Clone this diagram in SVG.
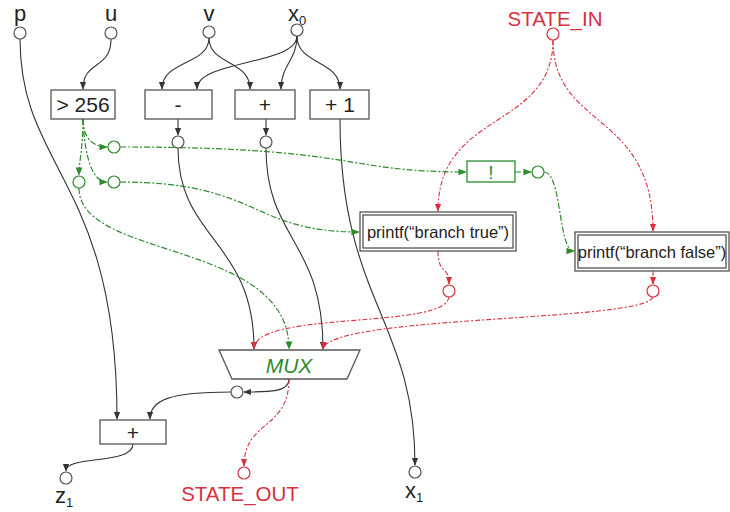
<svg xmlns="http://www.w3.org/2000/svg" width="730" height="512" viewBox="0 0 730 512">
<defs>
<marker id="ab" viewBox="0 0 10 10" refX="9" refY="5" markerWidth="7" markerHeight="7" orient="auto"><path d="M0,1 L10,5 L0,9 z" fill="#333"/></marker>
<marker id="ag" viewBox="0 0 10 10" refX="9" refY="5" markerWidth="7" markerHeight="7" orient="auto"><path d="M0,1 L10,5 L0,9 z" fill="#2e8b2e"/></marker>
<marker id="ar" viewBox="0 0 10 10" refX="9" refY="5" markerWidth="7" markerHeight="7" orient="auto"><path d="M0,1 L10,5 L0,9 z" fill="#d9303f"/></marker>
</defs>
<style>
text{font-family:"Liberation Sans",Arial,sans-serif;fill:#222}
.port{fill:#fff;stroke:#555;stroke-width:1.2}
.rport{fill:#fff;stroke:#d9303f;stroke-width:1.2}
.gport{fill:#fff;stroke:#2e8b2e;stroke-width:1.2}
.box{fill:#fff;stroke:#555;stroke-width:1.3}
.gbox{fill:#fff;stroke:#2e8b2e;stroke-width:1.3}
.lbl{font-size:22px;text-anchor:middle}
.bt{font-size:21px;text-anchor:middle}
.pt{font-size:16.5px;text-anchor:middle}
.red{fill:#d9303f}
.b{fill:none;stroke:#333;stroke-width:1.1;marker-end:url(#ab)}
.g{fill:none;stroke:#2e8b2e;stroke-width:1.2;stroke-dasharray:6,2,2,2;marker-end:url(#ag)}
.r{fill:none;stroke:#d9303f;stroke-width:1.1;stroke-dasharray:5,2,2,2;marker-end:url(#ar)}
</style>
<rect width="730" height="512" fill="#fff"/>
<g id="connectors">
<path class="b" d="M20,39 C20,170 117,180 117,419"/>
<path class="b" d="M111,39 C111,70 83,60 83,89"/>
<path class="b" d="M209,38 C209,65 162,60 162,89"/>
<path class="b" d="M209,38 C209,65 250,60 250,89"/>
<path class="b" d="M297,36 C297,65 197,60 197,89"/>
<path class="b" d="M297,36 C297,60 281,65 281,89"/>
<path class="b" d="M297,36 C297,65 340,60 340,89"/>
<path class="b" d="M178,119 L178,135"/>
<path class="b" d="M266,119 L266,135"/>
<path class="b" d="M178,148 C178,240 254,240 254,349"/>
<path class="b" d="M266,148 C266,240 323,240 323,349"/>
<path class="b" d="M340,119 C340,300 415,320 415,465"/>
<path class="b" d="M289,379 C289,392 270,392 244,392"/>
<path class="b" d="M231,392 C170,392 150,400 150,419"/>
<path class="b" d="M133,444 C133,465 66,455 66,471"/>
<path class="g" d="M83,119 C83,140 95,147 107,147"/>
<path class="g" d="M83,119 C83,150 79,160 79,175"/>
<path class="g" d="M83,119 C85,165 95,182 107,182"/>
<path class="g" d="M120,147 C360,147 340,172 466,172"/>
<path class="g" d="M120,182 C260,182 250,232 359,232"/>
<path class="g" d="M79,188 C79,260 289,240 289,349"/>
<path class="g" d="M515,172 L531,172"/>
<path class="g" d="M544,172 C562,172 558,251 574,251"/>
<path class="r" d="M553,40 C553,130 438,110 438,211"/>
<path class="r" d="M553,40 C553,130 653,110 653,231"/>
<path class="r" d="M438,251 C438,275 449,265 449,284"/>
<path class="r" d="M653,271 L653,284"/>
<path class="r" d="M449,297 C445,330 254,310 254,349"/>
<path class="r" d="M653,297 C645,322 330,315 323,349"/>
<path class="r" d="M289,379 C289,430 244,420 244,466"/>
</g>
<g id="p"><text class="lbl" x="20" y="21">p</text><circle class="port" cx="20" cy="33" r="6"/></g>
<g id="u"><text class="lbl" x="111" y="21">u</text><circle class="port" cx="111" cy="33" r="6"/></g>
<g id="v"><text class="lbl" x="209" y="21">v</text><circle class="port" cx="209" cy="32" r="6"/></g>
<g id="x0"><text class="lbl" x="297" y="21">x<tspan font-size="13" dy="4">0</tspan></text><circle class="port" cx="297" cy="30" r="6"/></g>
<g id="state_in"><text class="lbl red" x="555" y="26" style="font-size:20.5px">STATE_IN</text><circle class="rport" cx="553" cy="34" r="6"/></g>
<g id="gt256"><rect class="box" x="51" y="90" width="64" height="29"/><text class="bt" x="83" y="112">&gt; 256</text></g>
<g id="minus"><rect class="box" x="145" y="90" width="67" height="29"/><text class="bt" x="178" y="112">-</text></g>
<g id="plus"><rect class="box" x="235" y="90" width="60" height="29"/><text class="bt" x="265" y="112">+</text></g>
<g id="plus1"><rect class="box" x="310" y="90" width="59" height="29"/><text class="bt" x="340" y="112">+ 1</text></g>
<g id="c_minus"><circle class="port" cx="178" cy="142" r="6"/></g>
<g id="c_plus"><circle class="port" cx="266" cy="142" r="6"/></g>
<g id="c_g1"><circle class="gport" cx="114" cy="147" r="6"/></g>
<g id="c_g2"><circle class="gport" cx="79" cy="182" r="6"/></g>
<g id="c_g3"><circle class="gport" cx="114" cy="182" r="6"/></g>
<g id="not"><rect class="gbox" x="467" y="161" width="48" height="21"/><text x="491" y="179" style="font-size:19px;text-anchor:middle;fill:#2e8b2e">!</text></g>
<g id="c_not"><circle class="gport" cx="538" cy="172" r="6"/></g>
<g id="printf_true"><rect class="box" x="360" y="212" width="156" height="39"/><rect class="box" x="363" y="215" width="150" height="33"/><text class="pt" x="438" y="238">printf(“branch true”)</text></g>
<g id="printf_false"><rect class="box" x="575" y="232" width="154" height="39"/><rect class="box" x="578" y="235" width="148" height="33"/><text class="pt" x="652" y="258">printf(“branch false”)</text></g>
<g id="c_rt"><circle class="rport" cx="449" cy="291" r="6"/></g>
<g id="c_rf"><circle class="rport" cx="653" cy="291" r="6"/></g>
<g id="mux"><path class="box" d="M219,350 L360,350 L347,379 L232,379 Z"/><text x="289" y="373" style="font-size:21px;font-style:italic;text-anchor:middle;fill:#2e8b2e">MUX</text></g>
<g id="c_mux"><circle class="port" cx="237" cy="392" r="6"/></g>
<g id="plus_bottom"><rect class="box" x="100" y="420" width="66" height="24"/><text class="bt" x="133" y="440">+</text></g>
<g id="z1"><circle class="port" cx="66" cy="478" r="6"/><text class="lbl" x="64" y="503">z<tspan font-size="13" dy="4">1</tspan></text></g>
<g id="state_out"><circle class="rport" cx="244" cy="473" r="6"/><text class="lbl red" x="240" y="501" style="font-size:20.5px">STATE_OUT</text></g>
<g id="x1"><circle class="port" cx="415" cy="472" r="6"/><text class="lbl" x="414" y="498">x<tspan font-size="13" dy="4">1</tspan></text></g>
</svg>
